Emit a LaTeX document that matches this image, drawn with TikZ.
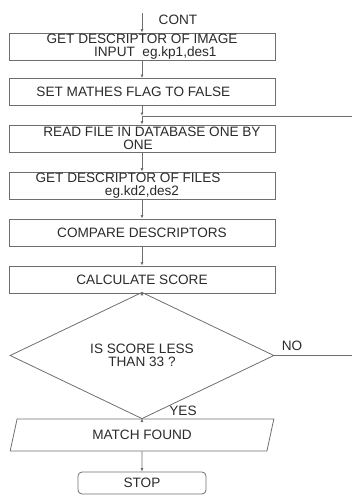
\documentclass[tikz,border=0pt]{standalone}
\usepackage{fontspec}
\setmainfont{Liberation Sans}
\usetikzlibrary{shapes.geometric, arrows.meta, calc}
\definecolor{linha}{HTML}{6E6E6E}
\definecolor{texto}{HTML}{2A2A2A}

\tikzset{
  caixa/.style={draw=linha, line width=0.6pt, rectangle, minimum width=199.5pt,
    minimum height=20.25pt, inner sep=0pt, align=center, text=texto,
    font=\fontsize{10.2}{10}\selectfont},
  losango/.style={caixa, diamond, minimum width=198pt, minimum height=63.75pt},
  entrada/.style={caixa, trapezium, trapezium left angle=74, trapezium right angle=106,
    trapezium stretches=true, minimum width=199.5pt, minimum height=24pt},
  fim/.style={caixa, rounded corners=3pt, minimum width=96pt, minimum height=16.5pt},
  rotulo/.style={text=texto, inner sep=0pt, font=\fontsize{10.2}{10}\selectfont},
  seta/.style={draw=linha, line width=0.6pt, -{Latex[length=2.6pt,width=2.2pt]}},
  linhaseca/.style={draw=linha, line width=0.6pt}
}

\begin{document}
\begin{tikzpicture}[x=0.75pt, y=-0.75pt]
  \useasboundingbox (0,0) rectangle (352,496);

  % caixas do fluxo
  \coordinate (inicio) at (142,13);
  \node[caixa] (descimg) at (142,46.5) {GET DESCRIPTOR OF IMAGE\\\hspace*{20pt}INPUT\ \ eg.kp1,des1};
  \node[caixa] (flag) at (142,92) {SET MATHES FLAG TO FALSE\hspace*{13pt}};
  \coordinate (junta) at (142,116);
  \coordinate (volta) at (352,116);
  \node[caixa] (ler) at (142,138.5) {\hspace*{15pt}READ FILE IN DATABASE ONE BY\\ONE\hspace*{6pt}};
  \node[caixa] (descarq) at (142,185.5) {GET DESCRIPTOR OF FILES\hspace*{21pt}\\eg.kd2,des2};
  \node[caixa] (comparar) at (142,232.5) {COMPARE DESCRIPTORS};
  \node[caixa] (calcular) at (142,279.5) {CALCULATE SCORE};
  \node[losango] (teste) at (142,355.5) {IS SCORE LESS\\THAN 33 ?};
  \coordinate (nao) at (352,355.5);
  \node[entrada] (achou) at (142,435) {MATCH FOUND};
  \node[fim] (parar) at (142,483) {STOP};

  % rotulos
  \node[rotulo] (cont) at (178,20) {CONT};
  \node[rotulo] (rotnao) at (292,346) {NO};
  \node[rotulo] (rotsim) at (183,411) {YES};

  % setas
  \draw[seta] (inicio) -- (descimg.north);
  \draw[seta] (descimg) -- (flag);
  \draw[seta] (flag) -- (junta);
  \draw[seta] (junta) -- (ler.north);
  \draw[linhaseca] (volta) -- (junta);
  \draw[seta] (ler) -- (descarq);
  \draw[seta] (descarq) -- (comparar);
  \draw[seta] (comparar) -- (calcular);
  \draw[seta] (calcular) -- (teste);
  \draw[linhaseca] (teste.east) -- (nao);
  \draw[seta] (teste.south) -- (achou.north);
  \draw[seta] (achou) -- (parar);
\end{tikzpicture}
\end{document}
